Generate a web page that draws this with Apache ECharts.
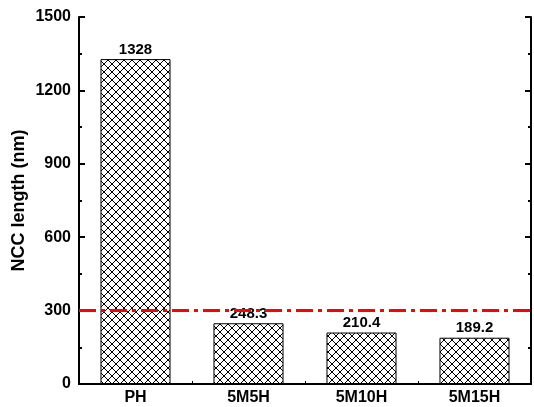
<!DOCTYPE html>
<html>
<head>
<meta charset="utf-8">
<script src="https://cdn.jsdelivr.net/npm/echarts@6/dist/echarts.min.js"></script>
<style>
html,body{margin:0;padding:0;background:#fff;}
#chart{width:534px;height:407px;}
</style>
</head>
<body>
<div id="chart"></div>
<script>
// Samples and measured NCC lengths (nm)
const categories = ['PH', '5M5H', '5M10H', '5M15H'];
const lengths = [1328, 248.3, 210.4, 189.2];
const thresholdValue = 300;
const yTicks = [0, 300, 600, 900, 1200, 1500];

// Cross-hatch fill for the bars
function makeHatch(size) {
  const c = document.createElement('canvas');
  c.width = size; c.height = size;
  const g = c.getContext('2d');
  g.fillStyle = '#fff';
  g.fillRect(0, 0, size, size);
  g.strokeStyle = '#000';
  g.lineWidth = 1;
  g.beginPath();
  g.moveTo(0, 0); g.lineTo(size, size);
  g.moveTo(size, 0); g.lineTo(0, size);
  g.stroke();
  return c;
}
const hatch = makeHatch(8);

const font = 'Liberation Sans, Arial, sans-serif';
const chart = echarts.init(document.getElementById('chart'), null, {renderer: 'canvas'});

const yBase = {
  type: 'value',
  min: yTicks[0],
  max: yTicks[yTicks.length - 1],
  interval: yTicks[1] - yTicks[0],
  splitLine: {show: false},
  axisLine: {show: true, lineStyle: {color: '#000', width: 2}},
  axisTick: {show: true, inside: true, length: 6, lineStyle: {color: '#000', width: 2}},
  minorTick: {show: true, splitNumber: 2, length: 3, lineStyle: {color: '#000', width: 2}}
};

chart.setOption({
  animation: false,
  backgroundColor: '#fff',
  grid: {left: 79, right: 3, top: 17, bottom: 23, show: false},
  xAxis: [{
    type: 'category',
    data: categories,
    axisLine: {show: true, onZero: false, lineStyle: {color: '#000', width: 2}},
    axisTick: {show: true, inside: true, length: 3, alignWithLabel: false, interval: 0, lineStyle: {color: '#000', width: 1}},
    minorTick: {show: false},
    axisLabel: {color: '#000', fontFamily: font, fontWeight: 'bold', fontSize: 16, margin: 6}
  }, {
    type: 'category',
    position: 'top',
    data: categories,
    axisLine: {show: true, lineStyle: {color: '#000', width: 2}},
    axisTick: {show: false},
    axisLabel: {show: false}
  }],
  yAxis: [Object.assign({}, yBase, {
    position: 'left',
    name: 'NCC length (nm)',
    nameLocation: 'middle',
    nameMoveOverlap: false,
    nameGap: 51,
    nameTextStyle: {color: '#000', fontFamily: font, fontWeight: 'bold', fontSize: 18},
    axisLabel: {color: '#000', fontFamily: font, fontWeight: 'bold', fontSize: 16, margin: 8,
      formatter: v => String(v)}
  }), Object.assign({}, yBase, {
    position: 'right',
    axisLabel: {show: false}
  })],
  series: [{
    type: 'bar',
    data: lengths,
    barWidth: '62%',
    itemStyle: {color: {image: hatch, repeat: 'repeat'}, borderColor: '#000', borderWidth: 1},
    label: {
      show: true, position: 'top', distance: 2,
      color: '#000', fontFamily: font, fontWeight: 'bold', fontSize: 15,
      formatter: p => String(p.value)
    },
    markLine: {
      silent: true,
      symbol: 'none',
      label: {show: false},
      lineStyle: {color: '#ff0000', width: 3, type: [17, 5, 4, 5]},
      data: [{yAxis: thresholdValue}]
    }
  }]
});
</script>
</body>
</html>
